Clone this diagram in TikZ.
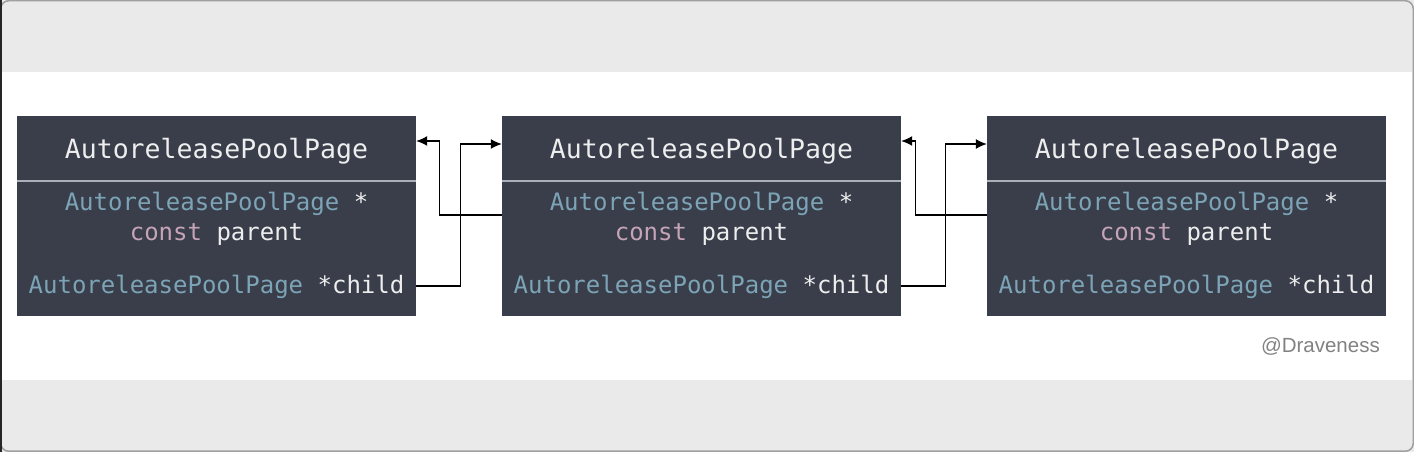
\documentclass[tikz,border=0pt]{standalone}
\usepackage{fontspec}
\setmonofont{DejaVu Sans Mono}
\newfontfamily\markfont{Liberation Sans}
\usetikzlibrary{arrows.meta}

\definecolor{framebg}{RGB}{234,234,234}
\definecolor{framegray}{RGB}{160,160,160}
\definecolor{pagebg}{RGB}{57,62,74}
\definecolor{sepgray}{RGB}{170,175,184}
\definecolor{codewhite}{RGB}{238,238,238}
\definecolor{typeblue}{RGB}{124,164,182}
\definecolor{keypink}{RGB}{198,164,183}
\definecolor{markgray}{RGB}{130,130,130}

\tikzset{
  header/.style={fill=pagebg, minimum width=399pt, minimum height=64pt, inner sep=0pt,
    text depth=0pt, text=codewhite, font=\ttfamily\fontsize{26.5}{30}\selectfont},
  body/.style={fill=pagebg, minimum width=399pt, minimum height=134pt, inner sep=0pt},
  code/.style={inner sep=0pt, text depth=0pt, text=codewhite, font=\ttfamily\fontsize{24}{28}\selectfont},
  link/.style={line width=1.3pt, -{Latex[length=11pt,width=10pt]}},
  credit/.style={inner sep=0pt, text=markgray, font=\markfont\fontsize{20.5}{24}\selectfont}
}

\begin{document}
\begin{tikzpicture}[x=1pt,y=1pt]

  % window background
  \fill[framebg] (0,0) rectangle (1414,452);
  \fill[white] (2,72) rectangle (1412,380);
  \draw[framegray, line width=1.5pt, rounded corners=8pt] (0.75,451.25) -- (1413.25,451.25) -- (1413.25,0.75) -- (0.75,0.75) -- cycle;
  \fill[black!85] (0,0) rectangle (2,452);

  % pages
  \foreach \i/\x in {1/216.5,2/701.5,3/1186.5}{
    \node[header] (head\i) at (\x,304) {AutoreleasePoolPage};
    \node[body] (body\i) at (\x,203) {};
    \draw[sepgray, line width=1.5pt] ([yshift=1]body\i.north west) -- ([yshift=1]body\i.north east);
    \node[code] (ptr\i) at (\x,251) {\textcolor{typeblue}{AutoreleasePoolPage} *};
    \node[code] (parent\i) at (\x,220) {\textcolor{keypink}{const} parent};
    \node[code] (child\i) at (\x,168) {\textcolor{typeblue}{AutoreleasePoolPage} *child};
  }

  % parent / child pointers
  \foreach \a/\b/\p/\c in {1/2/62/44, 2/3/71/44}{
    \draw[link] ([yshift=-2]child\a.east -| body\a.east) -- ++(\c,0) |- ([yshift=4]head\b.west);
    \draw[link] ([yshift=34]body\b.west) -- ++(-\p,0) |- ([yshift=7]head\a.east);
  }

  \node[credit, anchor=east] (mark) at (1380,106) {@Draveness};
\end{tikzpicture}
\end{document}
